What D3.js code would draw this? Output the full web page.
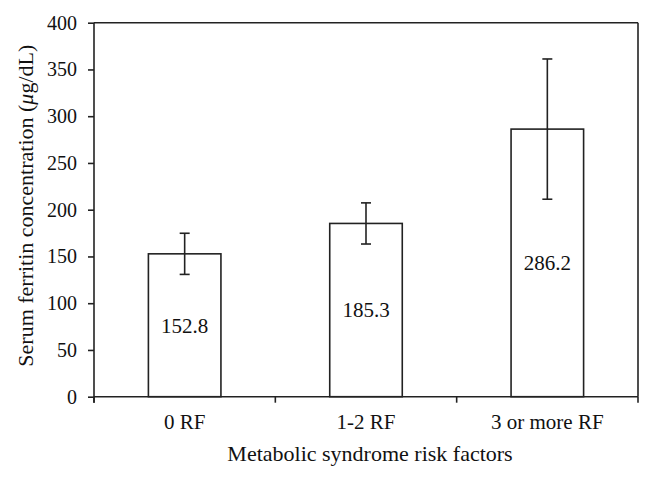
<!DOCTYPE html>
<html><head><meta charset="utf-8">
<script src="https://cdn.jsdelivr.net/npm/d3@7"></script>
<style>body{margin:0;background:#fff}svg{display:block}</style>
</head><body><svg id="c" width="653" height="480"></svg>
<script>
const categories = ["0 RF", "1-2 RF", "3 or more RF"];
const means = [152.8, 185.3, 286.2];
const errors = [22, 22, 75];
const yTicks = [0, 50, 100, 150, 200, 250, 300, 350, 400];
const xTitle = "Metabolic syndrome risk factors";

const FONT = "'Liberation Serif', 'DejaVu Serif', serif";
const W = 653, H = 480;
const m = {left: 94, right: 15, top: 22.7, bottom: 83.3};
const svg = d3.select("#c");
const iw = W - m.left - m.right, ih = H - m.top - m.bottom;
const g = svg.append("g").attr("transform", `translate(${m.left},${m.top})`);
const col = "#222";

const x = d3.scaleBand().domain(categories).range([0, iw]).paddingInner(0).paddingOuter(0);
const y = d3.scaleLinear().domain([0, 400]).range([ih, 0]);
const bw = x.bandwidth() * 0.40;

// frame top & right
g.append("line").attr("x1", 0).attr("x2", iw).attr("y1", 0).attr("y2", 0).attr("stroke", col).attr("stroke-width", 1.6);
g.append("line").attr("x1", iw).attr("x2", iw).attr("y1", 0).attr("y2", ih).attr("stroke", col).attr("stroke-width", 1.6);

// y axis
const ya = g.append("g").call(d3.axisLeft(y).tickValues(yTicks).tickSize(6).tickPadding(11).tickFormat(d3.format("d")));
ya.attr("font-family", FONT).attr("font-size", 20);
ya.selectAll("path").remove();
ya.append("line").attr("x1", 0).attr("x2", 0).attr("y1", 0).attr("y2", ih + 6).attr("stroke", col).attr("stroke-width", 1.6);
ya.selectAll(".tick line").attr("stroke", col).attr("stroke-width", 1.6);
ya.selectAll(".tick text").style("font-family", FONT).attr("font-size", 20).attr("fill", "#111");

// x axis with boundary ticks
const xa = g.append("g").attr("transform", `translate(0,${ih})`);
xa.append("line").attr("x1", 0).attr("x2", iw).attr("stroke", col).attr("stroke-width", 1.6);
const bounds = categories.map(c => x(c)).concat([iw]);
xa.selectAll(".bt").data(bounds).join("line").attr("class", "bt")
  .attr("x1", d => d).attr("x2", d => d).attr("y1", 0).attr("y2", 6).attr("stroke", col).attr("stroke-width", 1.6);
xa.selectAll(".cl").data(categories).join("text").attr("class", "cl")
  .attr("x", d => x(d) + x.bandwidth() / 2).attr("y", 25).attr("dy", "0.35em")
  .attr("text-anchor", "middle").style("font-family", FONT).attr("font-size", 21).attr("fill", "#111").text(d => d);

// bars
const data = categories.map((c, i) => ({c, v: means[i], e: errors[i]}));
g.selectAll(".bar").data(data).join("rect").attr("class", "bar")
  .attr("x", d => x(d.c) + x.bandwidth() / 2 - bw / 2).attr("width", bw)
  .attr("y", d => y(d.v)).attr("height", d => y(0) - y(d.v))
  .attr("fill", "#fff").attr("stroke", col).attr("stroke-width", 1.6);

// error bars
const eb = g.selectAll(".eb").data(data).join("g").attr("class", "eb")
  .attr("transform", d => `translate(${x(d.c) + x.bandwidth() / 2},0)`);
eb.append("line").attr("y1", d => y(d.v + d.e)).attr("y2", d => y(d.v - d.e)).attr("stroke", col).attr("stroke-width", 1.6);
eb.append("line").attr("x1", -5).attr("x2", 5).attr("y1", d => y(d.v + d.e)).attr("y2", d => y(d.v + d.e)).attr("stroke", col).attr("stroke-width", 1.6);
eb.append("line").attr("x1", -5).attr("x2", 5).attr("y1", d => y(d.v - d.e)).attr("y2", d => y(d.v - d.e)).attr("stroke", col).attr("stroke-width", 1.6);

// value labels
g.selectAll(".vl").data(data).join("text").attr("class", "vl")
  .attr("x", d => x(d.c) + x.bandwidth() / 2).attr("y", d => (y(d.v) + y(0)) / 2).attr("dy", "0.35em")
  .attr("text-anchor", "middle").style("font-family", FONT).attr("font-size", 21).attr("fill", "#111").text(d => d.v.toFixed(1));

// axis titles
svg.append("text").attr("x", m.left + iw / 2 + 4).attr("y", 453).attr("dy", "0.35em")
  .attr("text-anchor", "middle").style("font-family", FONT).attr("font-size", 22).attr("fill", "#111").text(xTitle);
const yt = svg.append("text").attr("transform", `translate(25,${m.top + ih / 2 - 4}) rotate(-90)`)
  .attr("dy", "0.35em").attr("text-anchor", "middle").style("font-family", FONT).attr("font-size", 22).attr("fill", "#111");
yt.append("tspan").text("Serum ferritin concentration (");
yt.append("tspan").attr("font-style", "italic").text("μ");
yt.append("tspan").text("g/dL)");
</script></body></html>
